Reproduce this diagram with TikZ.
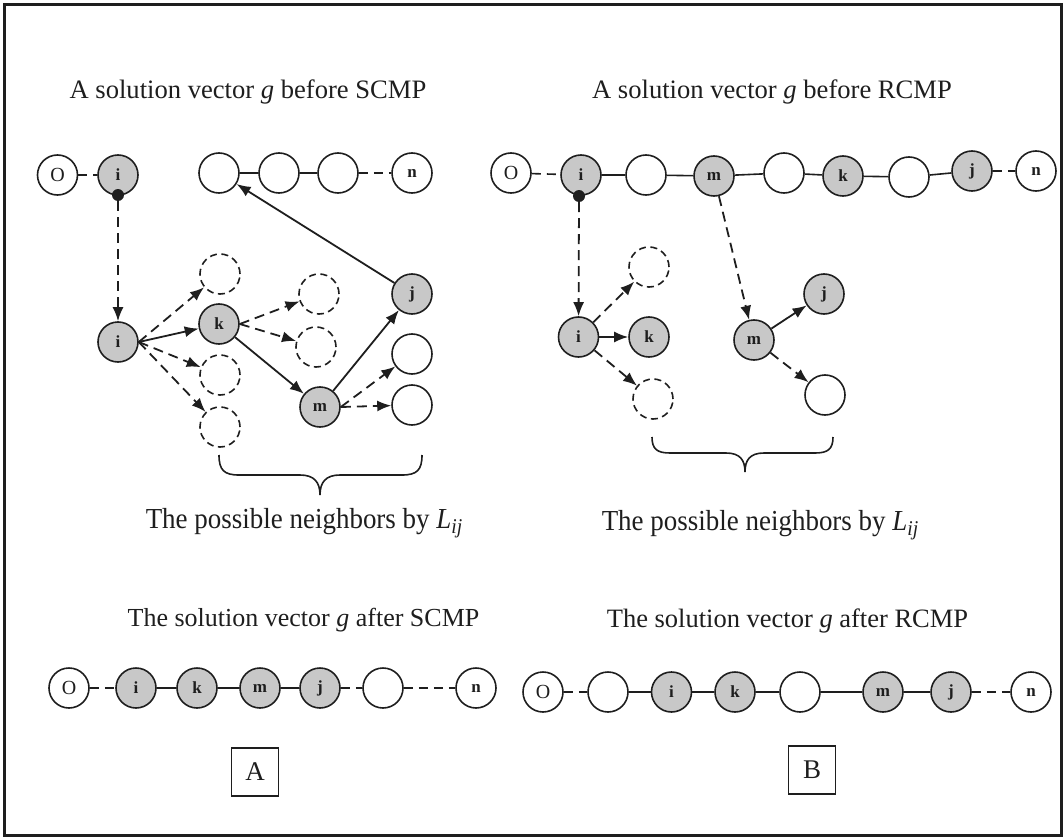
\documentclass[tikz,border=0pt]{standalone}
\usepackage{fontspec}
\setmainfont{Liberation Serif}
\usetikzlibrary{arrows.meta}
\definecolor{gfill}{RGB}{200,200,200}
\definecolor{ink}{RGB}{30,30,30}
\begin{document}
\begin{tikzpicture}[x=1pt,y=-1pt,
  nodebase/.style={circle,draw=ink,line width=1.6pt,minimum size=40pt,inner sep=0pt,font=\fontsize{17}{17}\selectfont\bfseries,text=ink},
  gnode/.style={nodebase,fill=gfill},
  enode/.style={nodebase,fill=white},
  dnode/.style={nodebase,fill=white,dash pattern=on 7pt off 4.5pt},
  onode/.style={nodebase,fill=white,font=\fontsize{20}{20}\selectfont},
  conn/.style={draw=ink,line width=1.6pt},
  dconn/.style={conn,dash pattern=on 9pt off 6pt},
  arr/.style={draw=ink,line width=1.8pt,-{Latex[length=14pt,width=11pt]}},
  darr/.style={arr,dash pattern=on 10pt off 6pt},
  bdot/.style={circle,fill=ink,inner sep=0pt,minimum size=12pt},
  ttl/.style={anchor=base,inner sep=0pt,text=ink},
  lbox/.style={draw=ink,line width=1.5pt,minimum width=47pt,minimum height=48pt,inner sep=0pt,font=\fontsize{27}{27}\selectfont,text=ink},
  brace/.style={draw=ink,line width=1.6pt}
]
\useasboundingbox (0,0) rectangle (1063,840);
\draw[line width=2.5pt,draw=ink] (4.5,4.5) rectangle (1061.5,835.5);

% titles
\node[ttl] (t1) at (248,99) {\fontsize{26.6}{26.6}\selectfont A solution vector \textit{g} before SCMP};
\node[ttl] (t2) at (772,99) {\fontsize{26.6}{26.6}\selectfont A solution vector \textit{g} before RCMP};
\node[ttl] (t3) at (303.5,626) {\fontsize{26}{26}\selectfont The solution vector \textit{g} after SCMP};
\node[ttl] (t4) at (787.5,627) {\fontsize{26.5}{26.5}\selectfont The solution vector \textit{g} after RCMP};
\node[ttl] (t5) at (304,528) {\scalebox{0.93}[1]{\fontsize{29}{29}\selectfont The possible neighbors by \textit{L}\raisebox{-5pt}{\fontsize{21}{21}\selectfont\textit{ij}}}};
\node[ttl] (t6) at (760,530) {\scalebox{0.93}[1]{\fontsize{29}{29}\selectfont The possible neighbors by \textit{L}\raisebox{-5pt}{\fontsize{21}{21}\selectfont\textit{ij}}}};

% ---------- left panel ----------
\node[onode] (LO) at (57.5,175) {O};
\node[gnode] (Li) at (118,175) {i};
\node[enode] (L1) at (219,173) {};
\node[enode] (L2) at (279,173) {};
\node[enode] (L3) at (338,173) {};
\node[enode] (Ln) at (412,173) {n};
\node[bdot] (Ld) at (118,195) {};
\node[gnode] (Lil) at (118,342) {i};
\node[dnode] (Ld1) at (220,274) {};
\node[gnode] (Lk) at (219,324) {k};
\node[dnode] (Ld2) at (220,375) {};
\node[dnode] (Ld3) at (220,427) {};
\node[dnode] (Ld4) at (319,294) {};
\node[dnode] (Ld5) at (316,347) {};
\node[gnode] (Lm) at (320,407) {m};
\node[gnode] (Lj) at (412,294) {j};
\node[enode] (Le4) at (412,354) {};
\node[enode] (Le5) at (412,405) {};

\draw[dconn] (LO) -- (Li);
\draw[conn] (L1) -- (L2);
\draw[conn] (L2) -- (L3);
\draw[dconn] (L3) -- (Ln);
\draw[darr] (Ld) -- (Lil);
\draw[darr] (Lil.east) -- (Ld1);
\draw[arr] (Lil.east) -- (Lk);
\draw[darr] (Lil.east) -- (Ld2);
\draw[darr] (Lil.east) -- (Ld3);
\draw[darr] (Lk.east) -- (Ld4);
\draw[darr] (Lk.east) -- (Ld5);
\draw[arr] (Lk) -- (Lm);
\draw[arr] (Lm) -- (Lj);
\draw[darr] (Lm.east) -- (Le4);
\draw[darr] (Lm.east) -- (Le5);
\draw[arr] (Lj) -- (L1);

\draw[brace] (219,455) .. controls (219,470) and (224,475) .. (239,475) -- (300,475)
  .. controls (314,475) and (320,482) .. (320,495)
  .. controls (320,482) and (326,475) .. (340,475) -- (402,475)
  .. controls (417,475) and (422,470) .. (422,455);

% ---------- right panel ----------
\node[onode] (RO) at (511,173) {O};
\node[gnode] (Ri) at (581,175) {i};
\node[enode] (R1) at (646,175) {};
\node[gnode] (Rm) at (714,176) {m};
\node[enode] (R2) at (784,173) {};
\node[gnode] (Rk) at (843,176) {k};
\node[enode] (R3) at (909,177) {};
\node[gnode] (Rj) at (972,171) {j};
\node[enode] (Rn) at (1036,171) {n};
\node[bdot] (Rd) at (579,196) {};
\node[gnode] (Ril) at (578.5,337) {i};
\node[dnode] (Rd1) at (649,267) {};
\node[gnode] (Rkl) at (649,337) {k};
\node[dnode] (Rd2) at (653,399) {};
\node[gnode] (Rml) at (754,340) {m};
\node[gnode] (Rjl) at (824,294) {j};
\node[enode] (Rel) at (825,395) {};

\draw[dconn] (RO) -- (Ri);
\draw[conn] (Ri) -- (R1);
\draw[conn] (R1) -- (Rm);
\draw[conn] (Rm) -- (R2);
\draw[conn] (R2) -- (Rk);
\draw[conn] (Rk) -- (R3);
\draw[conn] (R3) -- (Rj);
\draw[dconn] (Rj) -- (Rn);
\draw[darr] (Rd) -- (Ril);
\draw[darr] (Rm) -- (Rml);
\draw[darr] (Ril) -- (Rd1);
\draw[arr] (Ril) -- (Rkl);
\draw[darr] (Ril) -- (Rd2);
\draw[arr] (Rml) -- (Rjl);
\draw[darr] (Rml) -- (Rel);

\draw[brace] (652,437) .. controls (652,449) and (657,453) .. (670,453) -- (726,453)
  .. controls (740,453) and (745,460) .. (745,472)
  .. controls (745,460) and (750,453) .. (764,453) -- (815,453)
  .. controls (828,453) and (833,449) .. (833,437);

% ---------- bottom rows ----------
\node[onode] (BO) at (69,688) {O};
\node[gnode] (Bi) at (136,688) {i};
\node[gnode] (Bk) at (197,688) {k};
\node[gnode] (Bm) at (260,688) {m};
\node[gnode] (Bj) at (320,688) {j};
\node[enode] (Be) at (383,688) {};
\node[enode] (Bn) at (476,688) {n};
\draw[dconn] (BO) -- (Bi);
\draw[conn] (Bi) -- (Bk);
\draw[conn] (Bk) -- (Bm);
\draw[conn] (Bm) -- (Bj);
\draw[dconn] (Bj) -- (Be);
\draw[dconn] (Be) -- (Bn);

\node[onode] (CO) at (543,692) {O};
\node[enode] (C1) at (608,692) {};
\node[gnode] (Ci) at (671.5,692) {i};
\node[gnode] (Ck) at (735,692) {k};
\node[enode] (C2) at (800,692) {};
\node[gnode] (Cm) at (883,692) {m};
\node[gnode] (Cj) at (951,692) {j};
\node[enode] (Cn) at (1031,692) {n};
\draw[dconn] (CO) -- (C1);
\draw[conn] (C1) -- (Ci);
\draw[conn] (Ci) -- (Ck);
\draw[conn] (Ck) -- (C2);
\draw[conn] (C2) -- (Cm);
\draw[conn] (Cm) -- (Cj);
\draw[dconn] (Cj) -- (Cn);

% labels A, B
\node[lbox] (bA) at (255,772) {A};
\node[lbox] (bB) at (812,770) {B};
\end{tikzpicture}
\end{document}
